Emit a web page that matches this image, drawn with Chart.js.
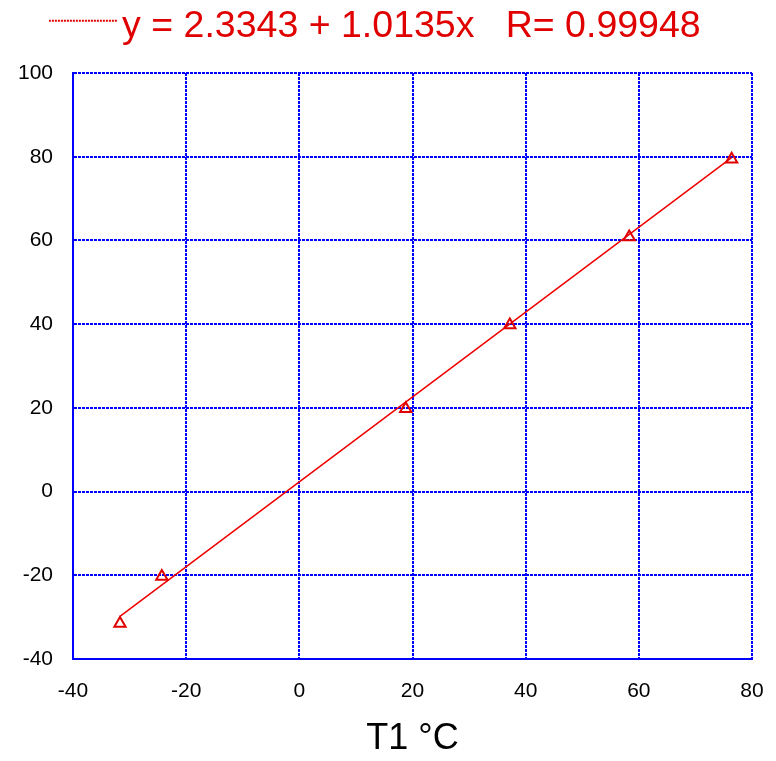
<!DOCTYPE html>
<html>
<head>
<meta charset="utf-8">
<title>T1 °C</title>
<script src="https://cdn.jsdelivr.net/npm/chart.js@4.4.1/dist/chart.umd.min.js"></script>
<style>
    html, body { margin: 0; padding: 0; background: #ffffff; }
</style>
</head>
<body>
<canvas id="calChart" width="776" height="761"></canvas>
<script>
// T1 readings against the reference temperature
const t1Values = [-31.7, -24.3, 18.8, 37.2, 58.3, 76.4];
const refValues = [-31.5, -20.3, 19.8, 39.8, 60.8, 79.4];

// linear fit y = a + b x
const fitIntercept = 2.3343;
const fitSlope = 1.0135;
const fitR = 0.99948;

// axis ticks
const xTicks = [-40, -20, 0, 20, 40, 60, 80];
const yTicks = [-40, -20, 0, 20, 40, 60, 80, 100];

const red = "#e00000";
const gridBlue = "#0000ff";
const fontFamily = "'Liberation Sans', Arial, sans-serif";

document.addEventListener("DOMContentLoaded", function () {
    const points = t1Values.map((x, i) => ({ x: x, y: refValues[i] }));

    // fit line over the measured range
    const xFirst = t1Values[0];
    const xLast = t1Values[t1Values.length - 1];
    const fitLine = [xFirst, xLast].map(x => ({ x: x, y: fitIntercept + fitSlope * x }));

    // dotted sample for the legend; the canvas is wider than the line so the
    // sample sits close to the equation text
    const legendLine = document.createElement("canvas");
    legendLine.width = 81;
    legendLine.height = 16;
    const lctx = legendLine.getContext("2d");
    lctx.strokeStyle = red;
    lctx.lineWidth = 2;
    lctx.setLineDash([2, 1]);
    lctx.beginPath();
    lctx.moveTo(0, 2);
    lctx.lineTo(68, 2);
    lctx.stroke();

    const ctx = document.getElementById("calChart").getContext("2d");

    new Chart(ctx, {
        type: "scatter",
        data: {
            datasets: [
                {
                    label: "points",
                    data: points,
                    pointStyle: "triangle",
                    pointRadius: 6.5,
                    pointBorderWidth: 2,
                    borderColor: red,
                    backgroundColor: "rgba(0,0,0,0)",
                    showLine: false
                },
                {
                    label: "fit",
                    data: fitLine,
                    showLine: true,
                    borderColor: "#ee0000",
                    borderWidth: 1.5,
                    pointRadius: 0
                }
            ]
        },
        options: {
            responsive: false,
            animation: false,
            devicePixelRatio: 1,
            layout: { padding: 0 },
            plugins: {
                tooltip: { enabled: false },
                legend: {
                    position: "top",
                    align: "center",
                    labels: {
                        usePointStyle: true,
                        pointStyleWidth: 28,
                        padding: 8,
                        color: red,
                        font: { family: fontFamily, size: 37.5 },
                        generateLabels: function () {
                            return [{
                                text: "y = " + fitIntercept + " + " + fitSlope + "x   R= " + fitR,
                                fontColor: red,
                                fillStyle: red,
                                strokeStyle: red,
                                lineWidth: 0,
                                pointStyle: legendLine,
                                hidden: false,
                                datasetIndex: 1
                            }];
                        }
                    }
                }
            },
            scales: {
                x: {
                    type: "linear",
                    min: xTicks[0],
                    max: xTicks[xTicks.length - 1],
                    afterBuildTicks: function (scale) {
                        scale.ticks = xTicks.map(v => ({ value: v }));
                    },
                    afterFit: function (scale) {
                        scale.height = 102;
                        scale.paddingRight = 24;
                    },
                    grid: { color: gridBlue, lineWidth: 2, drawTicks: false },
                    border: { color: gridBlue, width: 2, dash: [3, 1] },
                    ticks: {
                        color: "#000000",
                        padding: 20,
                        maxRotation: 0,
                        font: { family: fontFamily, size: 21 }
                    },
                    title: {
                        display: true,
                        text: "T1 °C",
                        color: "#000000",
                        padding: { top: 13, bottom: 0 },
                        font: { family: fontFamily, size: 36 }
                    }
                },
                // empty band between the legend and the plot
                gap: {
                    type: "linear",
                    position: "top",
                    grid: { display: false },
                    border: { display: false },
                    ticks: { display: false },
                    afterFit: function (scale) {
                        scale.height = 17.5;
                    }
                },
                y: {
                    type: "linear",
                    min: yTicks[0],
                    max: yTicks[yTicks.length - 1],
                    afterBuildTicks: function (scale) {
                        scale.ticks = yTicks.map(v => ({ value: v }));
                    },
                    afterFit: function (scale) {
                        scale.width = 73;
                    },
                    grid: { color: gridBlue, lineWidth: 2, drawTicks: false },
                    border: { color: gridBlue, width: 2, dash: [3, 1] },
                    ticks: {
                        color: "#000000",
                        padding: 20,
                        font: { family: fontFamily, size: 21 }
                    }
                }
            }
        }
    });
});
</script>
</body>
</html>
